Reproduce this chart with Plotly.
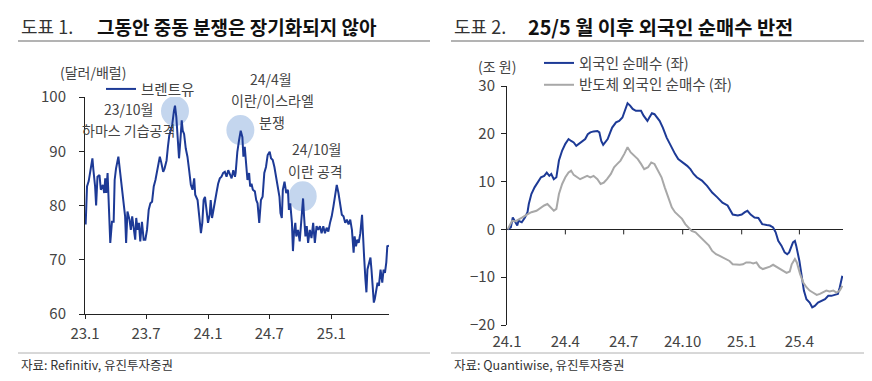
import plotly.graph_objects as go

# The page body adds an 8px margin, so the figure is drawn 8px smaller and
# every reference pixel position is converted with that offset.
OFF = 8
W, H = 872 - OFF, 381 - OFF
FONT = "Noto Sans CJK KR"
BLUE = "#1d3a96"
GRAY = "#a8a8a8"
AX = "#222222"
TXT = "#444444"


def px(x):
    return (x - OFF) / W


def py(y):
    return 1 - (y - OFF) / H


# ---------------- data: Brent (USD/bbl) ----------------
brent_dates = [
    "2023-01-03", "2023-01-05", "2023-01-07", "2023-01-12", "2023-01-16", "2023-01-20", "2023-01-23",
    "2023-01-26", "2023-01-31", "2023-02-03", "2023-02-07", "2023-02-13", "2023-02-17", "2023-02-23",
    "2023-02-27", "2023-03-02", "2023-03-05", "2023-03-09", "2023-03-13", "2023-03-17", "2023-03-22",
    "2023-03-27", "2023-03-30", "2023-04-03", "2023-04-10", "2023-04-15", "2023-04-20", "2023-04-25",
    "2023-04-30", "2023-05-03", "2023-05-07", "2023-05-13", "2023-05-17", "2023-05-21", "2023-05-25",
    "2023-05-30", "2023-06-02", "2023-06-06", "2023-06-10", "2023-06-14", "2023-06-19", "2023-06-24",
    "2023-06-29", "2023-07-04", "2023-07-09", "2023-07-14", "2023-07-19", "2023-07-24", "2023-07-29",
    "2023-08-05", "2023-08-11", "2023-08-15", "2023-08-21", "2023-08-25", "2023-08-31", "2023-09-04",
    "2023-09-08", "2023-09-12", "2023-09-17", "2023-09-22", "2023-09-25", "2023-09-29", "2023-10-02",
    "2023-10-07", "2023-10-11", "2023-10-15", "2023-10-18", "2023-10-22", "2023-10-27", "2023-11-01",
    "2023-11-06", "2023-11-11", "2023-11-16", "2023-11-21", "2023-11-24", "2023-11-28", "2023-12-01",
    "2023-12-06", "2023-12-11", "2023-12-15", "2023-12-19", "2023-12-23", "2023-12-27", "2024-01-01",
    "2024-01-06", "2024-01-09", "2024-01-13", "2024-01-18", "2024-01-21", "2024-01-26", "2024-01-31",
    "2024-02-05", "2024-02-10", "2024-02-15", "2024-02-20", "2024-02-25", "2024-03-01", "2024-03-06",
    "2024-03-11", "2024-03-16", "2024-03-21", "2024-03-23", "2024-03-28", "2024-04-02", "2024-04-07",
    "2024-04-12", "2024-04-15", "2024-04-19", "2024-04-23", "2024-04-27", "2024-05-02", "2024-05-05",
    "2024-05-09", "2024-05-13", "2024-05-19", "2024-05-23", "2024-05-27", "2024-06-01", "2024-06-06",
    "2024-06-11", "2024-06-16", "2024-06-21", "2024-06-26", "2024-07-02", "2024-07-06", "2024-07-11",
    "2024-07-16", "2024-07-21", "2024-07-26", "2024-07-31", "2024-08-03", "2024-08-07", "2024-08-10",
    "2024-08-15", "2024-08-20", "2024-08-25", "2024-08-28", "2024-09-01", "2024-09-06", "2024-09-09",
    "2024-09-12", "2024-09-16", "2024-09-19", "2024-09-24", "2024-09-29", "2024-10-04", "2024-10-09",
    "2024-10-12", "2024-10-16", "2024-10-20", "2024-10-24", "2024-10-29", "2024-11-03", "2024-11-08",
    "2024-11-13", "2024-11-18", "2024-11-23", "2024-11-28", "2024-12-03", "2024-12-08", "2024-12-13",
    "2024-12-18", "2024-12-23", "2024-12-28", "2025-01-02", "2025-01-07", "2025-01-12", "2025-01-17",
    "2025-01-22", "2025-01-27", "2025-02-01", "2025-02-06", "2025-02-11", "2025-02-16", "2025-02-21",
    "2025-02-26", "2025-03-03", "2025-03-08", "2025-03-11", "2025-03-15", "2025-03-19", "2025-03-23",
    "2025-03-28", "2025-04-02", "2025-04-05", "2025-04-08", "2025-04-12", "2025-04-15", "2025-04-18",
    "2025-04-22", "2025-04-27", "2025-04-30", "2025-05-04", "2025-05-07", "2025-05-10", "2025-05-14",
    "2025-05-18", "2025-05-22", "2025-05-27", "2025-06-01", "2025-06-05", "2025-06-09", "2025-06-13",
    "2025-06-16", "2025-06-21",
]
brent_values = [
    76.5, 79.0, 83.5, 84.5, 86.0, 87.0, 88.7,
    86.5, 83.5, 80.0, 85.3, 85.6, 82.9, 83.8,
    82.3, 85.0, 82.3, 86.0, 78.0, 73.1, 77.0,
    77.0, 84.7, 86.8, 89.0, 86.5, 84.0, 81.0,
    78.0, 73.1, 78.9, 77.4, 75.5, 78.0, 75.5,
    73.7, 77.7, 75.5, 76.8, 73.4, 77.0, 73.7,
    73.7, 75.5, 79.2, 80.4, 80.7, 83.5, 84.7,
    87.4, 89.0, 88.0, 86.2, 86.8, 88.3, 90.8,
    92.9, 93.8, 95.0, 97.5, 98.4, 96.3, 93.2,
    88.7, 92.0, 95.7, 93.8, 93.2, 90.5, 89.0,
    86.5, 83.8, 82.9, 85.0, 82.0, 81.3, 81.0,
    78.0, 74.9, 76.8, 81.0, 81.6, 79.8, 76.8,
    78.3, 81.0, 77.7, 79.8, 80.4, 82.3, 84.0,
    85.0, 85.3, 86.0, 86.2, 85.3, 86.5, 85.6,
    85.0, 86.5, 85.3, 86.0, 89.9, 92.0, 93.8,
    92.6, 89.0, 90.8, 88.4, 84.7, 86.0, 83.5,
    84.0, 82.9, 82.6, 81.0, 80.4, 76.8, 81.0,
    81.6, 86.0, 87.1, 89.3, 89.9, 88.7, 88.4,
    87.1, 85.3, 82.9, 81.6, 78.6, 77.7, 82.9,
    84.4, 82.3, 82.9, 79.2, 80.4, 76.8, 71.6,
    74.9, 76.8, 74.3, 75.5, 73.4, 78.0, 81.3,
    78.0, 74.3, 76.2, 73.1, 75.5, 74.0, 76.8,
    73.1, 76.2, 75.5, 76.2, 74.9, 76.2, 74.9,
    75.9, 75.2, 76.8, 78.0, 79.8, 81.6, 83.8,
    82.3, 80.1, 78.3, 78.0, 76.8, 77.4, 76.5,
    77.4, 75.5, 71.3, 74.3, 72.5, 73.7, 73.1,
    74.9, 78.3, 75.5, 70.7, 66.4, 64.0, 68.2,
    69.5, 70.4, 68.2, 64.6, 62.1, 62.8, 64.6,
    65.8, 65.2, 68.2, 65.8, 68.2, 67.6, 69.5,
    72.5, 72.6,
]

# ---------------- data: foreign net buying (KRW tn) ----------------
foreign_dates = [
    "2024-01-02", "2024-01-07", "2024-01-10", "2024-01-13", "2024-01-17", "2024-01-19", "2024-01-24",
    "2024-01-29", "2024-02-02", "2024-02-04", "2024-02-08", "2024-02-13", "2024-02-18", "2024-02-23",
    "2024-02-28", "2024-03-03", "2024-03-07", "2024-03-10", "2024-03-14", "2024-03-18", "2024-03-22",
    "2024-03-27", "2024-04-01", "2024-04-06", "2024-04-10", "2024-04-14", "2024-04-18", "2024-04-22",
    "2024-04-27", "2024-05-02", "2024-05-06", "2024-05-10", "2024-05-15", "2024-05-21", "2024-05-24",
    "2024-05-27", "2024-05-30", "2024-06-03", "2024-06-06", "2024-06-10", "2024-06-13", "2024-06-19",
    "2024-06-24", "2024-06-29", "2024-07-03", "2024-07-07", "2024-07-11", "2024-07-15", "2024-07-20",
    "2024-07-24", "2024-07-28", "2024-08-01", "2024-08-07", "2024-08-10", "2024-08-14", "2024-08-18",
    "2024-08-22", "2024-08-26", "2024-08-31", "2024-09-06", "2024-09-11", "2024-09-15", "2024-09-19",
    "2024-09-24", "2024-10-01", "2024-10-08", "2024-10-13", "2024-10-18", "2024-10-23", "2024-10-31",
    "2024-11-08", "2024-11-16", "2024-11-24", "2024-12-02", "2024-12-10", "2024-12-18", "2024-12-26",
    "2025-01-01", "2025-01-06", "2025-01-10", "2025-01-15", "2025-01-21", "2025-01-27", "2025-02-02",
    "2025-02-09", "2025-02-14", "2025-02-19", "2025-02-23", "2025-02-27", "2025-03-04", "2025-03-09",
    "2025-03-13", "2025-03-16", "2025-03-19", "2025-03-22", "2025-03-25", "2025-03-27", "2025-04-01",
    "2025-04-05", "2025-04-08", "2025-04-12", "2025-04-17", "2025-04-21", "2025-04-25", "2025-04-30",
    "2025-05-05", "2025-05-11", "2025-05-16", "2025-05-21", "2025-05-26", "2025-05-31", "2025-06-03",
    "2025-06-07",
]
foreign_net = [
    0.0, 0.4, 2.5, 1.8, 0.8, 1.8, 1.5,
    2.5, 3.6, 5.3, 7.4, 8.8, 9.8, 10.9,
    11.2, 11.9, 11.2, 11.6, 10.5, 10.9, 14.4,
    16.5, 17.9, 18.9, 18.5, 18.2, 17.5, 17.9,
    18.5, 18.9, 19.9, 20.3, 20.5, 20.6, 20.3,
    18.5, 17.7, 18.5, 18.9, 20.3, 21.3, 22.4,
    22.7, 23.4, 24.8, 26.4, 25.9, 25.2, 24.8,
    24.8, 24.8, 23.8, 22.7, 23.4, 24.3, 24.1,
    23.4, 22.7, 21.3, 19.2, 17.9, 16.8, 15.8,
    14.7, 14.0, 13.3, 12.6, 11.6, 10.9, 10.2,
    9.1, 7.7, 6.7, 5.6, 5.0, 3.1, 2.9,
    3.1, 3.6, 3.9, 3.1, 2.5, 2.4, 1.1,
    0.9, 0.8, 0.4, -0.6, -2.4, -3.4, -4.8,
    -5.2, -4.8, -3.8, -2.7, -2.4, -3.4, -6.6,
    -10.0, -12.8, -14.6, -15.3, -16.3, -16.0, -15.3,
    -14.9, -14.6, -13.9, -13.9, -13.7, -13.5, -12.1,
    -9.7,
]

# ---------------- data: foreign net buying of semiconductors (KRW tn) ----------------
semi_dates = [
    "2024-01-02", "2024-01-05", "2024-01-09", "2024-01-14", "2024-01-19", "2024-01-25", "2024-02-01",
    "2024-02-08", "2024-02-16", "2024-02-23", "2024-02-28", "2024-03-04", "2024-03-09", "2024-03-14",
    "2024-03-18", "2024-03-22", "2024-03-27", "2024-04-01", "2024-04-06", "2024-04-10", "2024-04-14",
    "2024-04-19", "2024-04-24", "2024-04-30", "2024-05-05", "2024-05-10", "2024-05-15", "2024-05-21",
    "2024-05-26", "2024-05-31", "2024-06-05", "2024-06-11", "2024-06-16", "2024-06-21", "2024-06-26",
    "2024-07-02", "2024-07-07", "2024-07-12", "2024-07-17", "2024-07-23", "2024-07-28", "2024-08-02",
    "2024-08-08", "2024-08-13", "2024-08-18", "2024-08-24", "2024-08-29", "2024-09-03", "2024-09-09",
    "2024-09-14", "2024-09-19", "2024-09-24", "2024-09-30", "2024-10-05", "2024-10-10", "2024-10-15",
    "2024-10-21", "2024-10-26", "2024-10-31", "2024-11-06", "2024-11-11", "2024-11-16", "2024-11-22",
    "2024-11-27", "2024-12-02", "2024-12-08", "2024-12-13", "2024-12-18", "2024-12-24", "2024-12-29",
    "2025-01-03", "2025-01-08", "2025-01-14", "2025-01-19", "2025-01-24", "2025-01-29", "2025-02-03",
    "2025-02-09", "2025-02-14", "2025-02-19", "2025-02-24", "2025-03-01", "2025-03-07", "2025-03-12",
    "2025-03-17", "2025-03-20", "2025-03-25", "2025-03-28", "2025-04-02", "2025-04-07", "2025-04-12",
    "2025-04-17", "2025-04-22", "2025-04-28", "2025-05-03", "2025-05-08", "2025-05-13", "2025-05-18",
    "2025-05-24", "2025-05-29", "2025-06-03", "2025-06-07",
]
semi_net = [
    0.0, 0.8, 1.8, 1.7, 2.0, 2.5, 3.1,
    3.6, 3.9, 4.6, 5.0, 5.3, 4.6, 3.9,
    4.3, 7.4, 9.5, 10.9, 11.9, 12.3, 11.4,
    10.9, 10.5, 10.9, 11.2, 10.9, 11.2, 10.5,
    9.5, 9.8, 10.5, 11.6, 13.0, 13.7, 14.4,
    15.8, 17.2, 16.1, 15.4, 14.7, 13.7, 12.6,
    13.0, 14.0, 13.7, 12.3, 10.9, 8.8, 6.7,
    4.6, 3.6, 2.9, 2.2, 1.1, 0.4, -0.3,
    -0.6, -1.3, -2.0, -2.7, -3.4, -4.5, -5.2,
    -5.5, -5.9, -6.2, -6.6, -7.3, -7.4, -7.4,
    -7.3, -6.9, -6.9, -7.1, -6.9, -7.9, -8.3,
    -8.1, -7.8, -7.4, -7.8, -8.3, -8.8, -9.1,
    -8.8, -7.3, -6.2, -6.9, -9.3, -11.1, -12.1,
    -12.8, -13.2, -13.7, -13.5, -13.2, -12.8, -13.0,
    -12.8, -13.2, -12.8, -11.8,
]

left_tickvals = ["2023-01-01", "2023-07-01", "2024-01-01", "2024-07-01", "2025-01-01"]
left_ticktext = ["23.1", "23.7", "24.1", "24.7", "25.1"]
right_tickvals = ["2024-01-01", "2024-04-01", "2024-07-01", "2024-10-01", "2025-01-01", "2025-04-01"]
right_ticktext = ["24.1", "24.4", "24.7", "24.10", "25.1", "25.4"]

# conflict events highlighted on the Brent line (date, price)
event_dates = ["2023-09-25", "2024-04-06", "2024-10-08"]
event_prices = [97.4, 93.9, 81.7]

fig = go.Figure()
fig.add_trace(go.Scatter(x=brent_dates, y=brent_values, name="브렌트유", mode="lines", showlegend=True,
                         line=dict(color=BLUE, width=2), xaxis="x", yaxis="y", legend="legend"))
fig.add_trace(go.Scatter(x=foreign_dates, y=foreign_net, name="외국인 순매수 (좌)", mode="lines",
                         showlegend=True,
                         line=dict(color=BLUE, width=2), xaxis="x2", yaxis="y2", legend="legend2"))
fig.add_trace(go.Scatter(x=semi_dates, y=semi_net, name="반도체 외국인 순매수 (좌)", mode="lines",
                         showlegend=True,
                         line=dict(color=GRAY, width=2), xaxis="x2", yaxis="y2", legend="legend2"))

tickfont = dict(family=FONT, size=15, color=TXT)
legfont = dict(family=FONT, size=14.5, color=TXT)

fig.update_layout(
    width=W, height=H, margin=dict(l=0, r=0, t=0, b=0, autoexpand=False),
    paper_bgcolor="white", plot_bgcolor="white", showlegend=True,
    font=dict(family=FONT, color=TXT),
    xaxis=dict(domain=[px(85), px(389)], range=["2023-01-01", "2025-06-21"], type="date",
               tickvals=left_tickvals, ticktext=left_ticktext, showgrid=False, zeroline=False,
               showline=True, linecolor=AX, linewidth=1, ticks="outside", ticklen=4, tickcolor=AX,
               tickfont=tickfont, anchor="y", ticklabelstandoff=2, automargin=False),
    yaxis=dict(domain=[py(314), py(97)], range=[60, 100], dtick=10, showgrid=False, zeroline=False,
               showline=True, linecolor=AX, linewidth=1, ticks="outside", ticklen=5, tickcolor=AX,
               tickfont=tickfont, anchor="x", ticklabelstandoff=10, automargin=False),
    xaxis2=dict(domain=[px(507), px(843)], range=["2024-01-01", "2025-06-08"], type="date",
                tickvals=right_tickvals, ticktext=right_ticktext, showgrid=False, zeroline=False,
                showline=False, ticks="", tickfont=tickfont, anchor="y2", ticklabelstandoff=6,
                automargin=False),
    yaxis2=dict(domain=[py(325), py(86)], range=[-20, 30], dtick=10, showgrid=False,
                zeroline=True, zerolinecolor=AX, zerolinewidth=1,
                showline=True, linecolor=AX, linewidth=1, ticks="outside", ticklen=5, tickcolor=AX,
                tickfont=tickfont, anchor="x2", ticklabelstandoff=3, automargin=False),
    legend=dict(x=px(101), y=py(73), xanchor="left", yanchor="top", bgcolor="rgba(0,0,0,0)",
                font=legfont),
    legend2=dict(x=px(539), y=py(47), xanchor="left", yanchor="top", bgcolor="rgba(0,0,0,0)",
                 font=legfont, tracegroupgap=0),
)

shapes = []
# highlight circles
for d, v in zip(event_dates, event_prices):
    shapes.append(dict(type="circle", xref="x", yref="y", xsizemode="pixel", ysizemode="pixel",
                       xanchor=d, yanchor=v, x0=-14, x1=14, y0=-15, y1=15,
                       fillcolor="rgba(176,200,232,0.75)", line=dict(width=0), layer="below"))
# tick marks on the zero line of the right chart
for d in right_tickvals[1:]:
    shapes.append(dict(type="line", xref="x2", yref="y2", ysizemode="pixel", yanchor=0,
                       x0=d, x1=d, y0=0, y1=-5, line=dict(color=AX, width=1)))
# title underlines and footer separators
for x0, x1 in [(18, 430), (451, 864)]:
    shapes.append(dict(type="line", xref="paper", yref="paper", x0=px(x0), x1=px(x1),
                       y0=py(41), y1=py(41), line=dict(color="#9a9a9a", width=1.5)))
    shapes.append(dict(type="line", xref="paper", yref="paper", x0=px(x0), x1=px(x1),
                       y0=py(353), y1=py(353), line=dict(color="#b0b0b0", width=1)))
fig.update_layout(shapes=shapes)


def ann(text, x, y, size=14, color=TXT, xanchor="center", bold=False):
    t = f"<b>{text}</b>" if bold else text
    return dict(text=t, x=px(x), y=py(y), xref="paper", yref="paper", showarrow=False,
                xanchor=xanchor, yanchor="middle", font=dict(family=FONT, size=size, color=color))


annotations = [
    ann("도표 1.", 19, 26, size=18, color="#333333", xanchor="left"),
    ann("그동안 중동 분쟁은 장기화되지 않아", 95, 26, size=19, color="#111111", xanchor="left", bold=True),
    ann("도표 2.", 452, 26, size=18, color="#333333", xanchor="left"),
    ann("25/5 월 이후 외국인 순매수 반전", 526, 26, size=19.8, color="#111111", xanchor="left", bold=True),
    ann("(달러/배럴)", 93, 72),
    ann("(조 원)", 497, 66),
    ann("23/10월", 128, 109),
    ann("하마스 기습공격", 128, 130),
    ann("24/4월", 271, 79),
    ann("이란/이스라엘", 272, 100),
    ann("분쟁", 272, 122),
    ann("24/10월", 316, 149),
    ann("이란 공격", 315, 171),
    ann("자료: Refinitiv, 유진투자증권", 19, 364, size=12.5, color="#333333", xanchor="left"),
    ann("자료: Quantiwise, 유진투자증권", 452, 364, size=12.5, color="#333333", xanchor="left"),
]
fig.update_layout(annotations=annotations)

fig.write_html("out.html")
